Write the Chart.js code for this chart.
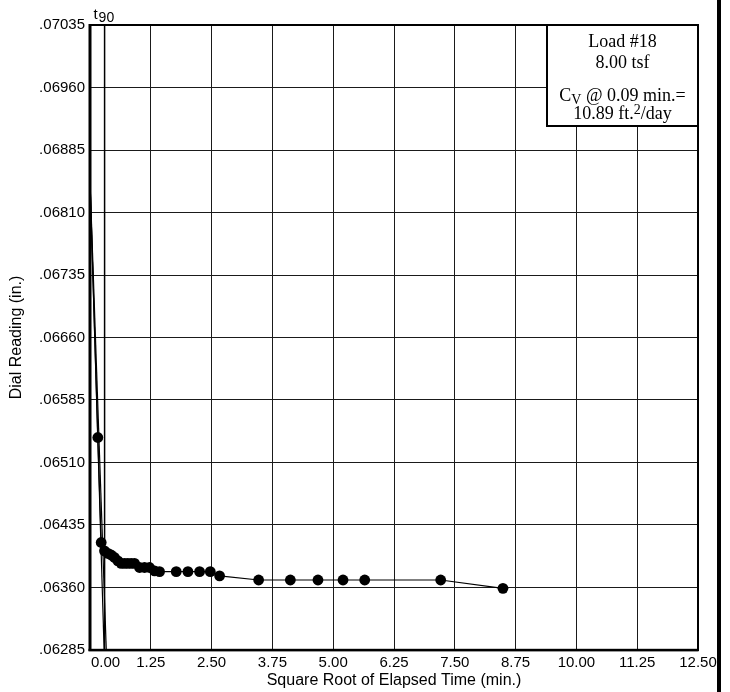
<!DOCTYPE html>
<html>
<head>
<meta charset="utf-8">
<script src="https://cdn.jsdelivr.net/npm/chart.js@4/dist/chart.umd.min.js"></script>
<style>
  html, body { margin: 0; padding: 0; background: #fff; }
</style>
</head>
<body>
<canvas id="dialChart" width="730" height="692"></canvas>
<script>
// square root of elapsed time (min.) and dial readings (in.)
const ROOT_TIME = [0, 0.161, 0.230, 0.298, 0.367, 0.435, 0.504, 0.573, 0.641, 0.710,
  0.778, 0.847, 0.916, 1.019, 1.121, 1.224, 1.327, 1.430, 1.773, 2.013,
  2.253, 2.473, 2.664, 3.467, 4.119, 4.687, 5.202, 5.648, 7.21, 8.49];
const DIAL_READING = [0.06849, 0.06540, 0.06414, 0.06404, 0.06401, 0.06399, 0.06396, 0.06392, 0.06389, 0.06389,
  0.06389, 0.06389, 0.06389, 0.06384, 0.06384, 0.06384, 0.06380, 0.06379, 0.06379, 0.06379,
  0.06379, 0.06379, 0.06374, 0.06369, 0.06369, 0.06369, 0.06369, 0.06369, 0.06369, 0.06359];

// Taylor construction: initial tangent, 1.15x offset line, t90 marker
const TANGENT_X = [0, 0.29];
const TANGENT_Y = [0.06849, 0.06285];
const OFFSET_X = [0, 0.335];
const OFFSET_Y = [0.06849, 0.06285];
const T90_X = [0.30, 0.30];
const T90_Y = [0.06285, 0.07035];

const X_TICKS = [0, 1.25, 2.5, 3.75, 5, 6.25, 7.5, 8.75, 10, 11.25, 12.5];
const Y_TICKS = [0.06285, 0.06360, 0.06435, 0.06510, 0.06585, 0.06660,
  0.06735, 0.06810, 0.06885, 0.06960, 0.07035];

const SANS = '"Liberation Sans", Arial, sans-serif';
const SERIF = '"Liberation Serif", "Times New Roman", serif';

function points(xs, ys) {
  return xs.map((x, i) => ({x: x, y: ys[i]}));
}

// frame, x labels, t90 tag and the load box
const decorations = {
  id: 'decorations',
  afterDraw(chart) {
    const {ctx, chartArea: a, scales: {x}} = chart;
    ctx.save();
    ctx.fillStyle = '#000';
    ctx.strokeStyle = '#000';

    // x tick labels, first one pushed inside the frame
    ctx.font = '15px ' + SANS;
    ctx.textBaseline = 'middle';
    X_TICKS.forEach((v, i) => {
      const px = x.getPixelForValue(v);
      ctx.textAlign = i === 0 ? 'left' : 'center';
      ctx.fillText(v.toFixed(2), i === 0 ? px + 1 : px, a.bottom + 13);
    });

    // plot frame
    ctx.lineWidth = 2;
    ctx.strokeRect(a.left, a.top, a.right - a.left, a.bottom - a.top);
    ctx.fillRect(a.left - 1.5, a.top - 1, 3, a.bottom - a.top + 2);
    ctx.fillRect(a.left - 1.5, a.bottom - 1.2, a.right - a.left + 2, 2.6);

    // t90 tag above the marker line
    const tx = x.getPixelForValue(T90_X[0]);
    ctx.textAlign = 'left';
    ctx.textBaseline = 'alphabetic';
    ctx.font = '15px ' + SANS;
    ctx.fillText('t', tx - 11, a.top - 6);
    ctx.font = '14px ' + SANS;
    ctx.fillText('90', tx - 6, a.top - 3);

    // load box in the top right corner
    const bw = 151, bh = 101;
    const bx = a.right - bw, by = a.top;
    ctx.fillStyle = '#fff';
    ctx.fillRect(bx, by, bw, bh);
    ctx.lineWidth = 2;
    ctx.strokeRect(bx, by, bw, bh);
    ctx.fillStyle = '#000';
    const cx = bx + bw / 2;
    ctx.font = '18px ' + SERIF;
    ctx.textAlign = 'center';
    ctx.fillText('Load #18', cx, by + 22);
    ctx.fillText('8.00 tsf', cx, by + 43);

    // C with subscript v
    ctx.textAlign = 'left';
    const big = '18px ' + SERIF, small = '14px ' + SERIF;
    ctx.font = big;
    const wC = ctx.measureText('C').width;
    const wRest = ctx.measureText(' @ 0.09 min.=').width;
    ctx.font = small;
    const wV = ctx.measureText('V').width;
    let sx = cx - (wC + wV + wRest) / 2;
    ctx.font = big;
    ctx.fillText('C', sx, by + 76);
    ctx.font = small;
    ctx.fillText('V', sx + wC, by + 79);
    ctx.font = big;
    ctx.fillText(' @ 0.09 min.=', sx + wC + wV, by + 76);

    // ft. squared per day
    const wA = ctx.measureText('10.89 ft.').width;
    const wB = ctx.measureText('/day').width;
    ctx.font = small;
    const w2 = ctx.measureText('2').width;
    sx = cx - (wA + w2 + wB) / 2;
    ctx.font = big;
    ctx.fillText('10.89 ft.', sx, by + 94);
    ctx.font = small;
    ctx.fillText('2', sx + wA, by + 89);
    ctx.font = big;
    ctx.fillText('/day', sx + wA + w2, by + 94);

    // heavy bar on the right edge of the sheet
    ctx.fillRect(717, 0, 4, chart.height);
    ctx.restore();
  }
};

const lineStyle = {
  showLine: true,
  borderColor: '#000',
  borderWidth: 1.2,
  pointRadius: 0
};

const ctx = document.getElementById('dialChart');
const dialChart = new Chart(ctx, {
  type: 'scatter',
  data: {
    datasets: [
      {
        data: points(ROOT_TIME, DIAL_READING),
        showLine: true,
        borderColor: '#000',
        borderWidth: 1.2,
        pointBackgroundColor: '#000',
        pointBorderWidth: 0,
        pointRadius: c => c.dataIndex === 0 ? 0 : 5.4
      },
      Object.assign({data: points(TANGENT_X, TANGENT_Y)}, lineStyle),
      Object.assign({data: points(OFFSET_X, OFFSET_Y)}, lineStyle),
      Object.assign({data: points(T90_X, T90_Y)}, lineStyle, {borderWidth: 1.5})
    ]
  },
  options: {
    responsive: false,
    animation: false,
    layout: {padding: {top: 25, right: 32, left: 0, bottom: 0}},
    plugins: {legend: {display: false}, tooltip: {enabled: false}},
    scales: {
      x: {
        type: 'linear',
        min: 0,
        max: 12.5,
        afterBuildTicks: s => { s.ticks = X_TICKS.map(v => ({value: v})); },
        afterFit: s => { s.height = 42; },
        ticks: {display: false},
        grid: {color: '#1a1a1a', lineWidth: 1, drawTicks: false},
        border: {display: false},
        title: {
          display: true,
          text: 'Square Root of Elapsed Time (min.)',
          color: '#000',
          font: {family: SANS, size: 16},
          padding: {top: 0, bottom: 2}
        }
      },
      y: {
        type: 'linear',
        min: 0.06285,
        max: 0.07035,
        afterBuildTicks: s => { s.ticks = Y_TICKS.map(v => ({value: v})); },
        afterFit: s => { s.width = 90; },
        ticks: {
          callback: v => v.toFixed(5).replace(/^0/, ''),
          color: '#000',
          font: {family: SANS, size: 15},
          padding: 5
        },
        grid: {color: '#1a1a1a', lineWidth: 1, drawTicks: false},
        border: {display: false},
        title: {
          display: true,
          text: 'Dial Reading (in.)',
          color: '#000',
          font: {family: SANS, size: 16},
          padding: {top: 7, bottom: 0}
        }
      }
    }
  },
  plugins: [decorations]
});
</script>
</body>
</html>
